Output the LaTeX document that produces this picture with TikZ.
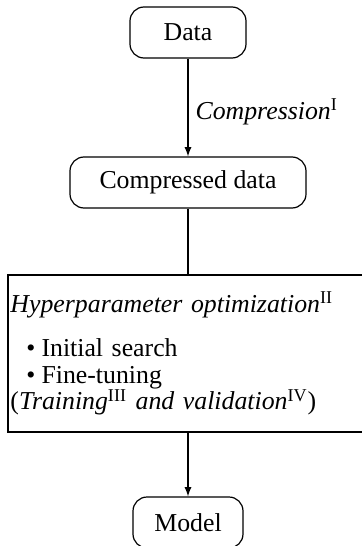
\documentclass[tikz,border=0pt]{standalone}
\usepackage{fontspec}
\setmainfont{Liberation Serif}
\usetikzlibrary{shapes}
\usetikzlibrary{arrows}

\begin{document}
\begin{tikzpicture}[x=0.5pt,y=-0.5pt]
	\tikzstyle{stage}=[rectangle,rounded corners=7pt,draw,line width=0.6pt,minimum height=25.5pt,inner sep=0pt]
	\tikzstyle{bigbox}=[rectangle,draw,line width=0.6pt,minimum width=177.5pt,minimum height=78.5pt,inner sep=0pt,text width=175pt,align=left]
	\tikzstyle{every node}=[font=\fontsize{12.9}{13.25}\selectfont]
	\useasboundingbox (0,0) rectangle (362,546);

	\node[stage,minimum width=58pt] (data) at (188,32.5) {Data};
	\node[stage,minimum width=118pt] (cdata) at (188,182.5) {Compressed data};
	\node[bigbox] (hpo) at (185.5,353.5) {\textit{Hyperparameter optimization}\textsuperscript{II}\\[9pt]
		\hspace*{8pt}\textbullet\hspace{3pt}Initial search\\
		\hspace*{8pt}\textbullet\hspace{3pt}Fine-tuning\\
		(\textit{Training}\textsuperscript{III} \textit{and validation}\textsuperscript{IV})};
	\node[stage,minimum width=55pt] (model) at (188,522.5) {Model};

	\draw[->,>=latex,line width=0.6pt] (data) -- node[right,inner sep=3.5pt,yshift=-2pt] (lblcomp) {\textit{Compression}\textsuperscript{I}} (cdata);
	\draw[line width=0.6pt] (cdata.south) -- (cdata.south |- hpo.north);
	\draw[->,>=latex,line width=0.6pt] (hpo.south -| model.north) -- (model.north);
\end{tikzpicture}
\end{document}
